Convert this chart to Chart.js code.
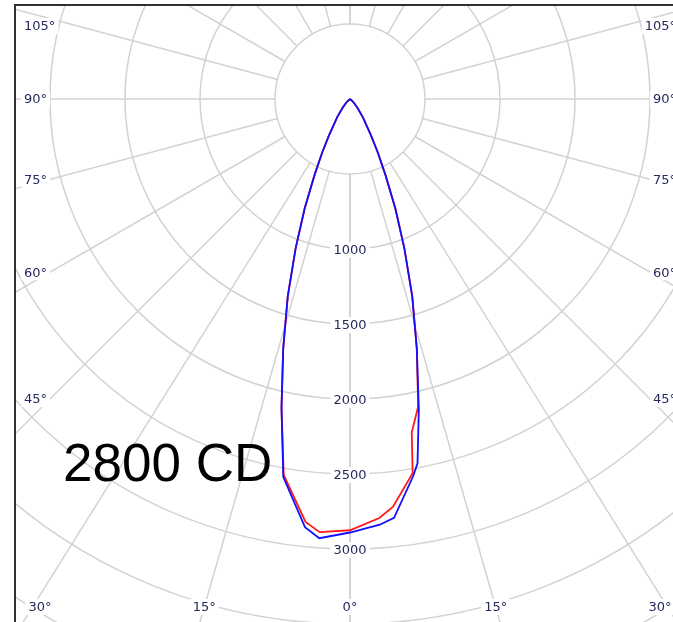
<!DOCTYPE html>
<html>
<head>
<meta charset="utf-8">
<title>Candela diagram</title>
<script src="https://cdn.jsdelivr.net/npm/chart.js@4.4.1/dist/chart.umd.min.js"></script>
<style>
  html, body { margin: 0; padding: 0; background: #fff; overflow: hidden; }
  #polar { display: block; }
</style>
</head>
<body>
<canvas id="polar" width="673" height="622"></canvas>
<script>
/* global Chart:false */
(function () {
  'use strict';

  // Candela readings, degrees from nadir (negative = left half of the plot)
  var angles = [-90, -60, -50, -45, -40, -35, -30, -27.5, -25, -22.5, -20, -17.5, -15, -12.5, -10, -6, -4,
    0, 4, 6, 9.5, 10.5, 12.5, 15, 17.5, 20, 22.5, 25, 27.5, 30, 35, 40, 45, 50, 60, 90];
  var cdBlue = [0, 0, 15, 40, 80, 150, 280, 400, 560, 790, 1060, 1380, 1720, 2110, 2560, 2870, 2935,
    2890, 2845, 2808, 2550, 2470, 2120, 1720, 1380, 1060, 790, 560, 400, 280, 150, 80, 40, 15, 0, 0];
  var cdRed = [0, 0, 15, 40, 80, 150, 280, 400, 560, 790, 1060, 1380, 1720, 2110, 2545, 2835, 2895,
    2875, 2800, 2735, 2530, 2260, 2100, 1720, 1380, 1060, 790, 560, 400, 280, 150, 80, 40, 15, 0, 0];

  // grid
  var rings = [500, 1000, 1500, 2000, 2500, 3000, 3500, 4000, 4500, 5000];
  var ringLabels = [1000, 1500, 2000, 2500, 3000];
  var spokeAngles = [0, 16, 32, 45, 60, 75, 90, 105, 120, 135, 150, 165, 180];
  var bottomLabels = ['0°', '15°', '30°'];
  var sideLabels = ['45°', '60°', '75°', '90°', '105°'];
  var peakText = '2800 CD';

  var W = 673, H = 622;
  var frameLeft = 15, frameTop = 5;
  var originPx = { x: 350, y: 99 };
  var pxPerCd = 0.15;

  function toPoints(vals) {
    return vals.map(function (v, i) {
      var a = angles[i] * Math.PI / 180;
      return { x: v * Math.sin(a), y: -v * Math.cos(a) };
    });
  }

  var smallFont = '13px "DejaVu Sans"';
  var labelColor = '#262a5c';

  function boxedText(ctx, text, x, y, align) {
    ctx.font = smallFont;
    var w = ctx.measureText(text).width;
    var left = align === 'left' ? x : (align === 'right' ? x - w : x - w / 2);
    ctx.fillStyle = '#fff';
    ctx.fillRect(left - 3, y - 8, w + 6, 16);
    ctx.fillStyle = labelColor;
    ctx.textAlign = align;
    ctx.textBaseline = 'middle';
    ctx.fillText(text, x, y + 1);
  }

  var polarGrid = {
    id: 'polarGrid',
    beforeDatasetsDraw: function (chart) {
      var ctx = chart.ctx, area = chart.chartArea;
      var xs = chart.scales.x, ys = chart.scales.y;
      var cx = xs.getPixelForValue(0), cy = ys.getPixelForValue(0);
      var unit = xs.getPixelForValue(1) - cx;
      ctx.save();
      ctx.beginPath();
      ctx.rect(area.left, area.top, area.right - area.left, area.bottom - area.top);
      ctx.clip();
      ctx.strokeStyle = '#d2d2d2';
      ctx.lineWidth = 1.5;
      rings.forEach(function (r) {
        ctx.beginPath();
        ctx.arc(cx, cy, r * unit, 0, Math.PI * 2);
        ctx.stroke();
      });
      var r0 = rings[0] * unit, r1 = 6000 * unit;
      spokeAngles.forEach(function (d) {
        [d, -d].forEach(function (s) {
          var a = s * Math.PI / 180;
          ctx.beginPath();
          ctx.moveTo(cx + r0 * Math.sin(a), cy + r0 * Math.cos(a));
          ctx.lineTo(cx + r1 * Math.sin(a), cy + r1 * Math.cos(a));
          ctx.stroke();
        });
      });
      ctx.restore();
    },
    afterDatasetsDraw: function (chart) {
      var ctx = chart.ctx, area = chart.chartArea;
      var xs = chart.scales.x, ys = chart.scales.y;
      var cx = xs.getPixelForValue(0), cy = ys.getPixelForValue(0);
      var unit = xs.getPixelForValue(1) - cx;
      ctx.save();

      ringLabels.forEach(function (v) {
        boxedText(ctx, String(v), cx, cy + v * unit + 1, 'center');
      });

      // angle labels where the spokes meet the frame
      var by = 607;
      bottomLabels.forEach(function (t, i) {
        var a = spokeAngles[i] * Math.PI / 180;
        var dx = (by - cy) * Math.tan(a);
        var xl = Math.max(cx - dx, area.left + 25);
        var xr = Math.min(cx + dx, W - 13);
        boxedText(ctx, t, xl, by, 'center');
        if (i > 0) boxedText(ctx, t, xr, by, 'center');
      });
      sideLabels.forEach(function (t, i) {
        var a = spokeAngles[i + 3] * Math.PI / 180;
        var y = cy + (cx - 50) * Math.cos(a) / Math.sin(a);
        y = Math.max(y, area.top + 21);
        boxedText(ctx, t, 24, y, 'left');
        boxedText(ctx, t, 676, y, 'right');
      });

      ctx.fillStyle = '#000';
      ctx.font = '53px "Liberation Sans", Arial, sans-serif';
      ctx.textAlign = 'left';
      ctx.textBaseline = 'alphabetic';
      ctx.fillText(peakText, 63, 481);

      // frame
      ctx.strokeStyle = '#303030';
      ctx.lineWidth = 2;
      ctx.beginPath();
      ctx.moveTo(area.left, H);
      ctx.lineTo(area.left, area.top);
      ctx.lineTo(W, area.top);
      ctx.stroke();
      ctx.restore();
    }
  };

  var ctx = document.getElementById('polar');
  new Chart(ctx, {
    type: 'scatter',
    data: {
      datasets: [{
        label: 'C0-C180',
        data: toPoints(cdBlue),
        showLine: true,
        borderColor: '#1010ff',
        borderWidth: 1.8,
        pointRadius: 0,
        tension: 0
      }, {
        label: 'C90-C270',
        data: toPoints(cdRed),
        showLine: true,
        borderColor: '#ff1a1a',
        borderWidth: 1.8,
        pointRadius: 0,
        tension: 0
      }]
    },
    options: {
      responsive: false,
      animation: false,
      layout: { padding: { left: frameLeft, top: frameTop, right: 0, bottom: 0 } },
      scales: {
        x: {
          type: 'linear', display: false,
          min: -(originPx.x - frameLeft) / pxPerCd,
          max: (W - originPx.x) / pxPerCd
        },
        y: {
          type: 'linear', display: false,
          min: -(H - originPx.y) / pxPerCd,
          max: (originPx.y - frameTop) / pxPerCd
        }
      },
      plugins: {
        legend: { display: false },
        tooltip: { enabled: false }
      }
    },
    plugins: [polarGrid]
  });
}());
</script>
</body>
</html>
